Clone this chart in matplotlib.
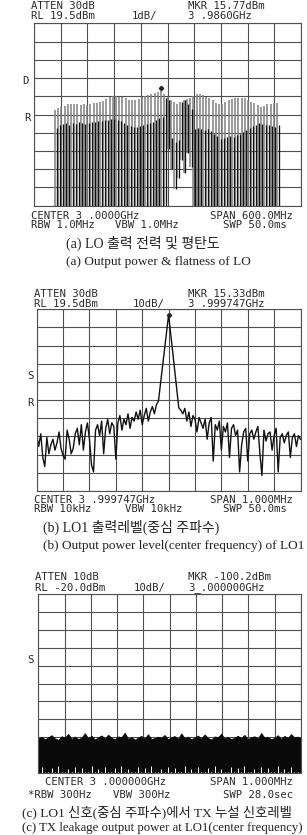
import numpy as np
import matplotlib
matplotlib.use('Agg')
import matplotlib.pyplot as plt

## (a) LO sweep, 600 MHz span, 1 dB/div -- comb lines, upper (gray) and lower (black) levels in dBm
lo_freq = np.linspace(-253, 246, 70)   # MHz offset from center
lo_gray_top = [14.75, 14.85, 14.9, 14.95, 15.05, 15.1, 15.05, 15.08, 15.02, 15.05,
               15.0, 15.1, 15.12, 15.15, 15.2, 15.25, 15.35, 15.45, 15.5, 15.52,
               15.48, 15.45, 15.4, 15.32, 15.3, 15.3, 15.35, 15.45, 15.5, 15.58,
               15.65, 15.7, 15.72, 15.77, 15.6, 15.45, 15.3, 15.2, 15.1, 15.2,
               15.3, 15.35, 15.4, 15.5, 15.6, 15.62, 15.55, 15.48, 15.4, 15.3,
               15.15, 15.05, 15.1, 15.2, 15.28, 15.35, 15.4, 15.38, 15.4, 15.38,
               15.3, 15.2, 15.12, 15.0, 14.92, 14.95, 15.05, 15.1, 15.12, 15.15]
lo_black_top = [13.76, 13.9, 14.0, 14.03, 13.95, 14.05, 14.0, 14.08, 14.05, 14.0,
                14.05, 14.1, 14.1, 14.12, 14.15, 14.2, 14.22, 14.25, 14.25, 14.2,
                14.15, 14.05, 13.95, 13.85, 13.8, 13.82, 13.85, 13.9, 14.0, 14.05,
                14.1, 14.2, 14.3, 14.38, 15.4, 15.3, 13.2, 13.0, 13.1, 15.2,
                15.3, 15.1, 14.8, 13.7, 13.75, 13.7, 13.65, 13.7, 13.6, 13.45,
                13.3, 13.15, 13.2, 13.25, 13.3, 13.28, 13.35, 13.45, 13.55, 13.65,
                13.75, 13.85, 13.95, 14.03, 14.0, 13.95, 13.9, 13.85, 13.83, 13.9]
lo_bottom = [9.5] * 35 + [12.6, 11.5, 10.4, 11.0, 12.0, 11.3, 12.4, 11.6] + [9.5] * 27
lo_mkr = (-14.4, 15.95)

## (b) LO1 at center, 1 MHz span, 10 dB/div
lo1_freq = np.linspace(-500, 500, 131)   # kHz offset
lo1_level = [-50, -56, -49, -62, -67, -51, -60, -55, -52, -58,
             -54, -48, -57, -61, -63, -47, -52, -60, -57, -49,
             -46, -55, -44, -58, -48, -43, -52, -66, -70, -47,
             -44, -50, -42, -60, -46, -41, -49, -43, -45, -63,
             -43, -39, -47, -41, -44, -38, -46, -40, -42, -37,
             -41, -36, -44, -39, -35, -42, -37, -34, -38, -33,
             -31, -21.4, -11.8, -2.3, 7.3, 16.5, 6.5, -3.9, -14, -24.4, -34.6,
             -36, -38, -35, -42, -37, -45, -39, -41, -48, -40, -43,
             -46, -41, -52, -43, -40, -64, -44, -47, -42, -58,
             -45, -48, -43, -62, -46, -44, -50, -47, -70, -55,
             -48, -46, -64, -49, -47, -52, -48, -45, -60, -72,
             -47, -53, -49, -48, -58, -50, -46, -70, -51, -49,
             -54, -50, -48, -62, -51, -49, -56, -50, -52]
lo1_mkr = (0, 16.5)

## (c) TX leakage at LO1, noise band upper / lower edges
tx_freq = np.linspace(-500, 500, 80)
tx_upper = [-100.5, -99.8, -101.2, -100.0, -98.9, -100.7, -101.5, -99.5, -100.2, -98.2,
            -100.9, -99.7, -101.0, -100.3, -97.8, -100.6, -99.2, -101.3, -100.1, -99.0,
            -100.8, -98.6, -100.4, -101.1, -99.6, -100.0, -97.5, -100.9, -99.9, -101.4,
            -100.2, -99.3, -100.7, -98.4, -101.0, -100.5, -99.8, -100.3, -98.8, -101.2,
            -100.0, -99.4, -100.9, -97.9, -100.6, -99.7, -101.1, -100.2, -99.1, -100.8,
            -98.5, -100.4, -101.3, -99.6, -100.1, -98.1, -100.7, -99.9, -101.0, -100.3,
            -99.2, -100.6, -98.7, -101.2, -100.0, -99.5, -100.8, -97.7, -100.2, -99.8,
            -101.1, -100.4, -98.9, -100.9, -99.3, -100.5, -98.3, -100.1, -99.7, -100.6]
tx_lower = [-119.5, -116.5, -119.5, -119.5, -117.0, -119.5, -116.0, -119.5, -119.5, -117.5,
            -119.5, -116.5, -119.5, -117.0, -119.5, -119.5, -116.0, -119.5, -117.5, -119.5,
            -116.5, -119.5, -119.5, -117.0, -119.5, -116.0, -119.5, -117.5, -119.5, -119.5,
            -116.5, -119.5, -117.0, -119.5, -116.0, -119.5, -119.5, -117.5, -119.5, -116.5,
            -119.5, -117.0, -119.5, -119.5, -116.0, -119.5, -117.5, -119.5, -116.5, -119.5,
            -119.5, -117.0, -119.5, -116.0, -119.5, -117.5, -119.5, -119.5, -116.5, -119.5,
            -117.0, -119.5, -116.0, -119.5, -119.5, -117.5, -119.5, -116.5, -119.5, -117.0,
            -119.5, -119.5, -116.0, -119.5, -117.5, -119.5, -116.5, -119.5, -119.5, -117.0]

W, H = 307, 835
fig = plt.figure(figsize=(W / 100, H / 100), dpi=100)

def box(l, t, r, b):
    return fig.add_axes([l / W, 1 - b / H, (r - l) / W, (b - t) / H])

def txt(x, y, s, **kw):
    opts = dict(family='DejaVu Sans Mono', fontsize=7.7, color='#2a2a2a', va='center')
    opts.update(kw)
    fig.text(x / W, 1 - y / H, s, **opts)

def cap(x, y, s, size):
    fig.text(x / W, 1 - y / H, s, family=['Liberation Serif', 'Noto Sans CJK KR'],
             fontsize=size, color='#222222', va='center')

def screen(ax, x0, x1, y0, y1):
    ax.set_xlim(x0, x1)
    ax.set_ylim(y0, y1)
    ax.set_xticks(np.linspace(x0, x1, 11))
    ax.set_yticks(np.linspace(y0, y1, 11))
    ax.set_axisbelow(True)
    ax.grid(True, color='#505050', lw=0.8)
    ax.tick_params(length=0, labelbottom=False, labelleft=False)
    for s in ax.spines.values():
        s.set_color('#505050')
        s.set_linewidth(0.8)

# ---- (a)
ax1 = box(34, 23.3, 301, 205.7)
screen(ax1, -300, 300, 9.5, 19.5)
ax1.vlines(lo_freq, lo_bottom, lo_gray_top, color='#808080', lw=1.1)
ax1.vlines(lo_freq + 3.6, lo_bottom, lo_black_top, color='#111111', lw=0.95)
ax1.plot(*lo_mkr, marker='D', ms=2.2, color='#222222')

txt(30.7, 6.3, 'ATTEN 30dB')
txt(30.7, 16.3, 'RL 19.5dBm')
txt(131.7, 16.3, '1dB/')
txt(188.3, 6.3, 'MKR 15.77dBm')
txt(188.3, 16.3, '3 .9860GHz')
txt(25, 80.7, 'D', ha='center')
txt(27.3, 118.3, 'R', ha='center')
txt(30.7, 216, 'CENTER 3 .0000GHz')
txt(292.7, 216, 'SPAN 600.0MHz', ha='right')
txt(30.7, 225.3, 'RBW 1.0MHz')
txt(115, 225.3, 'VBW 1.0MHz')
txt(286.7, 225.3, 'SWP 50.0ms', ha='right')
cap(65.7, 243.3, '(a) LO 출력 전력 및 평탄도', 10)
cap(65.7, 261.7, '(a) Output power & flatness of LO', 9.5)

# ---- (b)
ax2 = box(36.7, 309.3, 300.5, 491)
screen(ax2, -500, 500, -80.5, 19.5)
ax2.plot(lo1_freq, lo1_level, color='#111111', lw=1.0)
ax2.plot(*lo1_mkr, marker='D', ms=2.2, color='#222222')

txt(34, 294.2, 'ATTEN 30dB')
txt(34, 304.2, 'RL 19.5dBm')
txt(132.7, 304.2, '10dB/')
txt(188.3, 294.2, 'MKR 15.33dBm')
txt(188.3, 304.2, '3 .999747GHz')
txt(30, 376, 'S', ha='center')
txt(30, 403, 'R', ha='center')
txt(34.3, 500, 'CENTER 3 .999747GHz')
txt(292.7, 500, 'SPAN 1.000MHz', ha='right')
txt(34.3, 509.3, 'RBW 10kHz')
txt(125, 509.3, 'VBW 10kHz')
txt(286.7, 509.3, 'SWP 50.0ms', ha='right')
cap(43.3, 527.5, '(b) LO1 출력레벨(중심 주파수)', 10)
cap(43.3, 545.8, '(b) Output power level(center frequency) of LO1', 9.5)

# ---- (c)
ax3 = box(38.3, 594, 301, 773)
screen(ax3, -500, 500, -120, -20)
ax3.fill_between(tx_freq, -119.5, tx_upper, color='#0a0a0a', lw=0.6)
ax3.vlines(tx_freq, -120, tx_lower, color='white', lw=0.7)

txt(35, 577.5, 'ATTEN 10dB')
txt(35, 588, 'RL -20.0dBm')
txt(133.3, 588, '10dB/')
txt(188.3, 577.5, 'MKR -100.2dBm')
txt(188.3, 588, '3_.000000GHz')
txt(30, 660, 'S', ha='center')
txt(45, 781.7, 'CENTER 3 .000000GHz')
txt(292.7, 781.7, 'SPAN 1.000MHz', ha='right')
txt(28.3, 795, '*RBW 300Hz')
txt(113.3, 795, 'VBW 300Hz')
txt(293.3, 795, 'SWP 28.0sec', ha='right')
cap(21.7, 812, '(c) LO1 신호(중심 주파수)에서 TX 누설 신호레벨', 9.6)
cap(21.7, 827.5, '(c) TX leakage output power at LO1(center frequency)', 9.2)

fig.savefig('out.png', dpi=100)
